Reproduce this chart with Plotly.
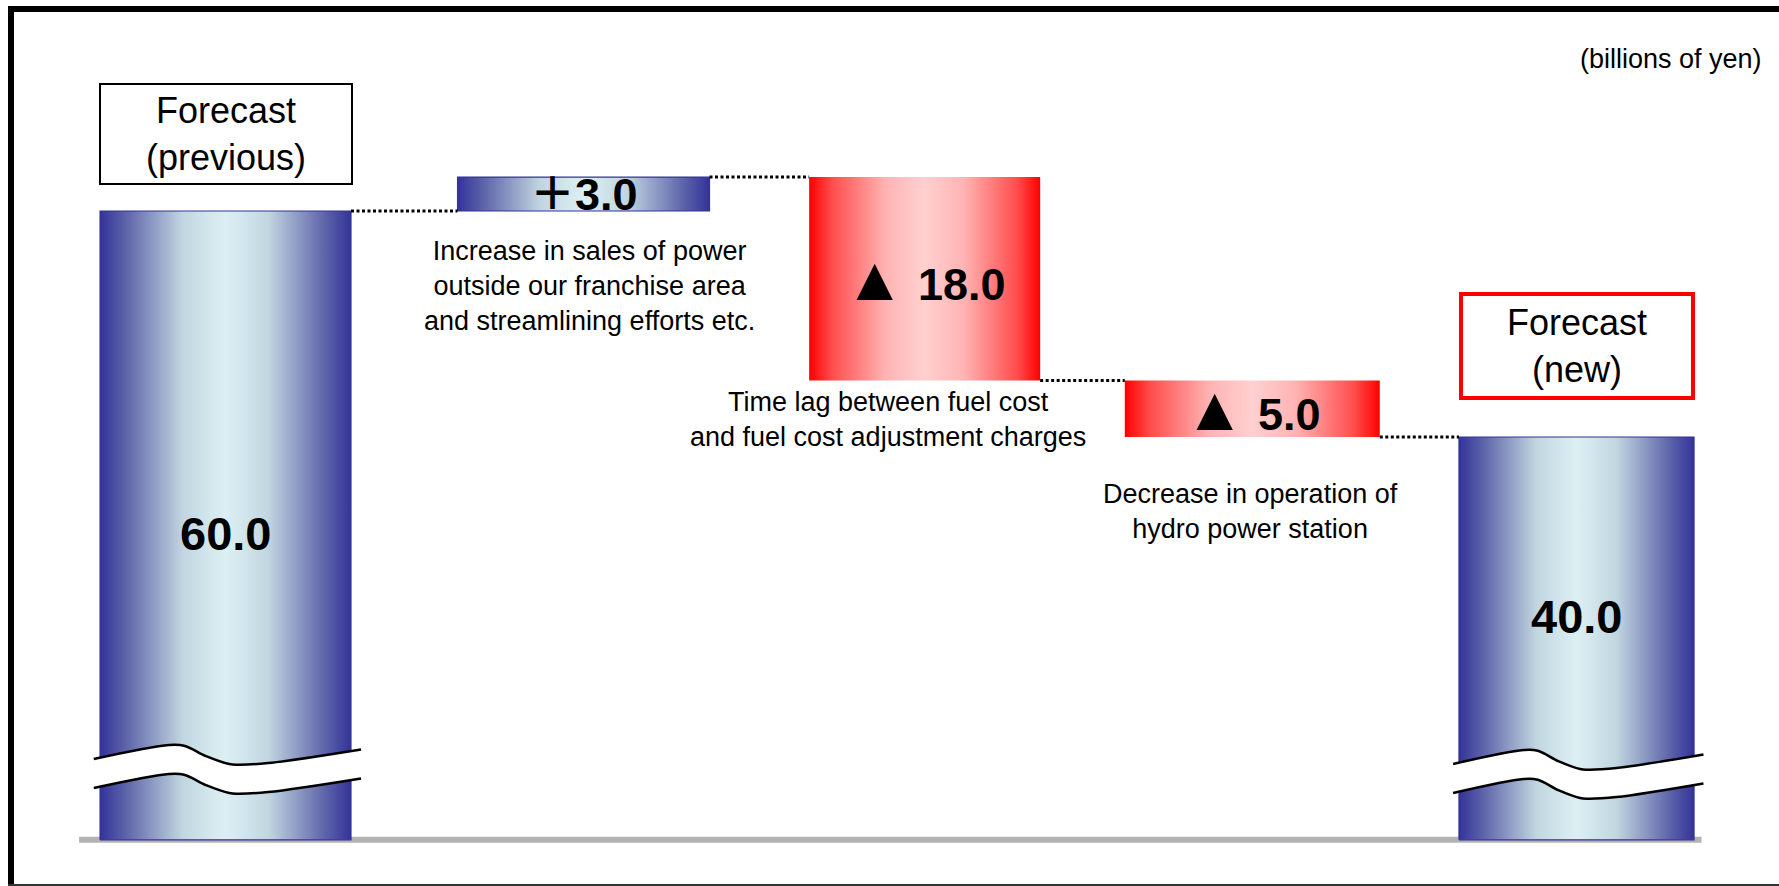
import plotly.graph_objects as go

# ---- data (billions of yen) ----
total_labels = ["Forecast<br>(previous)", "Forecast<br>(new)"]
total_values = [60.0, 40.0]
change_values = [3.0, -18.0, -5.0]
change_notes = [
    "Increase in sales of power<br>outside our franchise area<br>and streamlining efforts etc.",
    "Time lag between fuel cost<br>and fuel cost adjustment charges",
    "Decrease in operation of<br>hydro power station",
]
unit_label = "(billions of yen)"

# ---- layout constants ----
W, H = 1779, 886
SLOT = [0.0, 1.06, 2.07, 3.04, 4.0]           # column centres on the x axis
BAR_W = [0.743, 0.746, 0.684, 0.755, 0.696]   # column widths (x-axis units)
PX_PER_SLOT = 337.75
X_MIN = -0.6677
PX_PER_UNIT = 11.3
Y_TOP = 889 / PX_PER_UNIT
FLOOR = 4.35                                  # visible base of the broken value axis

FONT = "Liberation Sans, Arial, Noto Sans CJK JP, sans-serif"
BLUE_SCALE = [[0, "#333399"], [0.1, "#5c62a8"], [0.33, "#c2d6e1"], [0.5, "#dcf0f3"],
              [0.67, "#c2d6e1"], [0.9, "#5c62a8"], [1, "#333399"]]
RED_SCALE = [[0, "#ff0000"], [0.1, "#ff4d4d"], [0.33, "#ffb3b3"], [0.5, "#ffd0d0"],
             [0.67, "#ffb3b3"], [0.9, "#ff4d4d"], [1, "#ff0000"]]

# wavy axis-break decoration: offsets relative to the column half-width / pixels
BREAK_U = [-1.05, -0.45, -0.33, -0.15, 0.03, 0.09, 0.34, 1.08]
BREAK_DY_PX = [0, -14, -13.3, -2.6, 5, 5.7, 4, -9.6]
BREAK_GAP_PX = 29
BREAK_LEVEL = {0: 11.5, 4: 11.06}

fig = go.Figure()


def edges(i):
    return SLOT[i] - BAR_W[i] / 2, SLOT[i] + BAR_W[i] / 2


def add_column(i, lo, hi, scale, outline):
    x0, x1 = edges(i)
    fig.add_trace(go.Scatter(
        x=[x0, x1, x1, x0, x0], y=[lo, lo, hi, hi, lo],
        mode="lines", fill="toself",
        fillgradient=dict(type="horizontal", colorscale=scale),
        line=dict(color=outline, width=1.2),
        hoverinfo="skip", showlegend=False))


# columns
levels = [total_values[0]]
add_column(0, FLOOR, total_values[0], BLUE_SCALE, "#333399")
level = total_values[0]
spans = []
for k, d in enumerate(change_values):
    lo, hi = min(level, level + d), max(level, level + d)
    spans.append((lo, hi))
    if d > 0:
        add_column(k + 1, lo, hi, BLUE_SCALE, "#333399")
    else:
        add_column(k + 1, lo, hi, RED_SCALE, "rgba(255,0,0,0)")
    level += d
    levels.append(level)
add_column(4, FLOOR, total_values[1], BLUE_SCALE, "#333399")

# dotted connectors between successive columns
for i in range(4):
    xa = edges(i)[1]
    xb = edges(i + 1)[0]
    fig.add_trace(go.Scatter(
        x=[xa, xb], y=[levels[i], levels[i]], mode="lines",
        line=dict(color="black", width=3, dash="3px,2.5px"),
        hoverinfo="skip", showlegend=False))

# axis-break marks across the two total columns
for i, base in BREAK_LEVEL.items():
    half = BAR_W[i] / 2
    xs = [SLOT[i] + u * half for u in BREAK_U]
    upper = [base - dy / PX_PER_UNIT for dy in BREAK_DY_PX]
    lower = [v - BREAK_GAP_PX / PX_PER_UNIT for v in upper]
    fig.add_trace(go.Scatter(x=xs, y=lower, mode="lines", line=dict(color="black", width=2.5, shape="spline"),
                             hoverinfo="skip", showlegend=False))
    fig.add_trace(go.Scatter(x=xs, y=upper, mode="lines", fill="tonexty", fillcolor="white",
                             line=dict(color="black", width=2.5, shape="spline"),
                             hoverinfo="skip", showlegend=False))

annotations = []

# total value labels and heading boxes
total_slots = [0, 4]
value_shift = [-8, 22]
box_shift = [26, 37]
box_size = [(248, 96), (226, 98)]
box_style = [dict(bordercolor="black", borderwidth=2), dict(bordercolor="#ff0000", borderwidth=4)]
for j, i in enumerate(total_slots):
    v = total_values[j]
    annotations.append(dict(
        x=SLOT[i], y=(FLOOR + v) / 2, text=f"<b>{v:.1f}</b>", showarrow=False,
        yshift=value_shift[j], font=dict(family=FONT, size=47, color="black")))
    annotations.append(dict(
        x=SLOT[i], y=v, yanchor="bottom", yshift=box_shift[j], showarrow=False,
        text=total_labels[j], width=box_size[j][0], height=box_size[j][1],
        bgcolor="white", borderpad=1, valign="middle",
        font=dict(family=FONT, size=36, color="black"), **box_style[j]))

# change labels and explanations
note_shift = [(6, -23), (-37, -4), (-2, -40)]
for k, d in enumerate(change_values):
    lo, hi = spans[k]
    i = k + 1
    if d > 0:
        label = f"<b>＋{d:.1f}</b>"
    else:
        label = f"<span style='font-size:62px'>▲</span><b> {abs(d):.1f}</b>"
    annotations.append(dict(
        x=SLOT[i], y=(lo + hi) / 2, text=label, showarrow=False,
        font=dict(family=FONT, size=45, color="black")))
    annotations.append(dict(
        x=SLOT[i], y=lo, yanchor="top", xanchor="center", align="center",
        xshift=note_shift[k][0], yshift=note_shift[k][1], showarrow=False,
        text=change_notes[k], font=dict(family=FONT, size=27, color="black")))

annotations.append(dict(
    x=1764 / W, y=1 - 59 / H, xref="paper", yref="paper", xanchor="right", yanchor="middle",
    text=unit_label, showarrow=False, font=dict(family=FONT, size=27, color="black")))

shapes = [
    # baseline
    dict(type="line", xref="x", yref="y", x0=edges(0)[0] - 0.062, x1=edges(4)[1] + 0.022,
         y0=FLOOR, y1=FLOOR, line=dict(color="#b3b3b3", width=6), layer="below"),
    # frame
    dict(type="line", xref="paper", yref="paper", x0=8 / W, x1=1, y0=1 - 9 / H, y1=1 - 9 / H,
         line=dict(color="black", width=6)),
    dict(type="line", xref="paper", yref="paper", x0=11 / W, x1=11 / W, y0=1 - 6 / H, y1=0,
         line=dict(color="black", width=6)),
    dict(type="line", xref="paper", yref="paper", x0=8 / W, x1=1, y0=1 / H, y1=1 / H,
         line=dict(color="#333333", width=2)),
]

fig.update_layout(
    width=W, height=H, margin=dict(l=0, r=0, t=0, b=0),
    paper_bgcolor="white", plot_bgcolor="white",
    xaxis=dict(range=[X_MIN, X_MIN + W / PX_PER_SLOT], visible=False, fixedrange=True),
    yaxis=dict(range=[Y_TOP - H / PX_PER_UNIT, Y_TOP], visible=False, fixedrange=True),
    annotations=annotations, shapes=shapes, showlegend=False,
)

fig.write_html("out.html", config={"displayModeBar": False})
